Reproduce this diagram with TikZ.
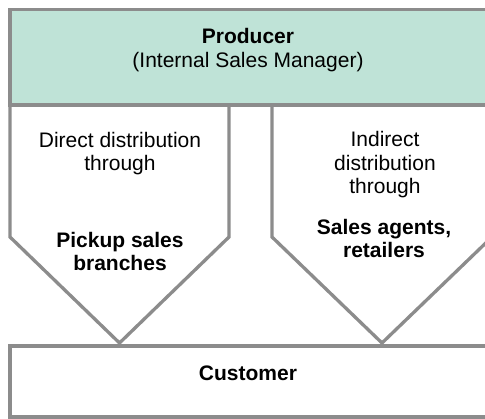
\documentclass[tikz,border=0pt]{standalone}
\usepackage{fontspec}
\setmainfont{Liberation Sans}
\usepackage{xcolor}
\usetikzlibrary{positioning}
\definecolor{boxgray}{RGB}{140,140,140}
\definecolor{prodgreen}{RGB}{191,227,215}
\tikzset{
    frame/.style={draw=boxgray, line width=3.3pt, line join=miter, outer sep=0pt},
    label/.style={align=center, inner sep=0pt, font=\fontsize{21}{23.5}\selectfont},
    boldlabel/.style={label, font=\fontsize{21}{23.5}\selectfont\bfseries}
}

\begin{document}
\begin{tikzpicture}[x=1pt, y=-1pt]
    \useasboundingbox (0,0) rectangle (485,419);
    \clip (0,0) rectangle (485,419);
    \fill[white] (0,0) rectangle (485,419);

    % channels
    \draw[frame, fill=white] (10,103) -- (10,237) -- (119.5,343) -- (229,237) -- (229,103);
    \draw[frame, fill=white] (272,103) -- (272,237) -- (382,343) -- (492,237) -- (492,103);

    % producer and customer
    \node[frame, fill=prodgreen, minimum width=500pt, minimum height=95.5pt, anchor=north west] at (10,9.5) (producer) {};
    \node[frame, fill=white, minimum width=500pt, minimum height=71pt, anchor=north west] at (10,346) (customer) {};

    \node[label] at (248,50) (prodtext) {\textbf{Producer}\\(Internal Sales Manager)};
    \node[boldlabel] at (248,373) (custtext) {Customer};

    \node[label] at (120,153.5) (direct) {Direct distribution\\through};
    \node[boldlabel] at (120,251.5) (pickup) {Pickup sales\\branches};
    \node[label] at (385,165) (indirect) {Indirect\\distribution\\through};
    \node[boldlabel] at (384,238.5) (agents) {Sales agents,\\retailers};
\end{tikzpicture}
\end{document}
